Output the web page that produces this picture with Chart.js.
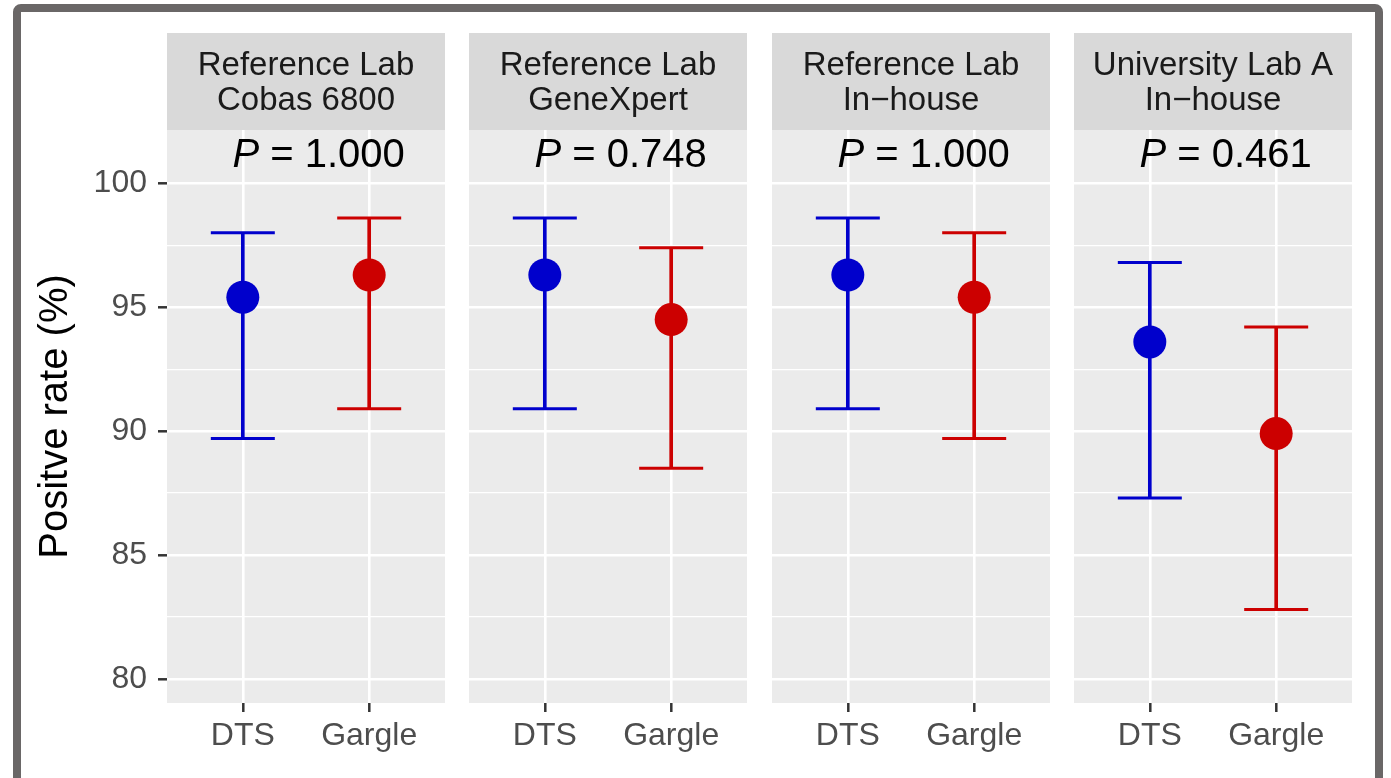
<!DOCTYPE html>
<html>
<head>
<meta charset="utf-8">
<script src="https://cdn.jsdelivr.net/npm/chart.js@4.4.1/dist/chart.umd.min.js"></script>
<style>
  body { margin: 0; background: #fff; }
  #page { position: relative; width: 1391px; height: 778px; overflow: hidden; background: #fff; }
  #frame { position: absolute; left: 13px; top: 4px; width: 1370px; height: 830px; border: 8px solid #6a6767; border-radius: 8px; box-sizing: border-box; }
  canvas { position: absolute; top: 0; }
</style>
</head>
<body>
<div id="page">
  <div id="frame"></div>
</div>
<script>
// data
const categories = ['DTS', 'Gargle'];
const panelLabels = [
    ['Reference Lab', 'Cobas 6800'],
    ['Reference Lab', 'GeneXpert'],
    ['Reference Lab', 'In\u2212house'],
    ['University Lab A', 'In\u2212house']
];
const pValues = ['1.000', '0.748', '1.000', '0.461'];
const dtsRate = [95.4, 96.3, 96.3, 93.6];
const dtsLower = [89.7, 90.9, 90.9, 87.3];
const dtsUpper = [98.0, 98.6, 98.6, 96.8];
const gargleRate = [96.3, 94.5, 95.4, 89.9];
const gargleLower = [90.9, 88.5, 89.7, 82.8];
const gargleUpper = [98.6, 97.4, 98.0, 94.2];
const yTicks = [80, 85, 90, 95, 100];

const BLUE = '#0000cc';
const RED = '#cc0000';
const FONT = '"Liberation Sans", Arial, sans-serif';
const panelLeft = [167, 469, 772, 1074];
const panelWidth = 278;
const yAxisWidth = 139;

Chart.defaults.font.family = FONT;

const facetPlugin = {
    id: 'facet',
    beforeDraw(chart, args, opts) {
        const { ctx, chartArea: a } = chart;
        ctx.save();
        ctx.fillStyle = '#ebebeb';
        ctx.fillRect(a.left, a.top, a.right - a.left, a.bottom - a.top);
        ctx.fillStyle = '#d9d9d9';
        ctx.fillRect(a.left, 33, a.right - a.left, a.top - 33);
        ctx.fillStyle = '#1a1a1a';
        ctx.font = '33px ' + FONT;
        ctx.textAlign = 'center';
        ctx.textBaseline = 'middle';
        const cx = (a.left + a.right) / 2;
        opts.lines.forEach((t, k) => ctx.fillText(t, cx, 66 + k * 35));
        ctx.restore();
    },
    afterDatasetsDraw(chart, args, opts) {
        const { ctx, scales } = chart;
        const px = scales.x.getPixelForValue(1.6);
        const py = scales.y.getPixelForValue(101.1);
        ctx.save();
        ctx.fillStyle = '#000';
        ctx.textBaseline = 'middle';
        ctx.textAlign = 'left';
        ctx.font = 'italic 40px ' + FONT;
        const wP = ctx.measureText('P').width;
        ctx.font = '40px ' + FONT;
        const rest = ' = ' + opts.p;
        const wR = ctx.measureText(rest).width;
        const x0 = px - (wP + wR) / 2;
        ctx.font = 'italic 40px ' + FONT;
        ctx.fillText('P', x0, py);
        ctx.font = '40px ' + FONT;
        ctx.fillText(rest, x0 + wP, py);
        ctx.restore();
    }
};

function makePanel(i) {
    const first = i === 0;
    const canvas = document.createElement('canvas');
    const left = first ? 0 : panelLeft[i] - 12;
    const width = first ? panelLeft[0] + panelWidth + 12 : panelWidth + 24;
    canvas.width = width;
    canvas.height = 778;
    canvas.style.left = left + 'px';
    canvas.style.width = width + 'px';
    canvas.style.height = '778px';
    document.getElementById('page').appendChild(canvas);

    const isMajor = v => yTicks.includes(v);

    new Chart(canvas.getContext('2d'), {
        type: 'scatter',
        data: {
            datasets: [
                {
                    label: 'rate',
                    data: [{ x: 1, y: dtsRate[i] }, { x: 2, y: gargleRate[i] }],
                    backgroundColor: [BLUE, RED],
                    borderWidth: 0,
                    pointRadius: 16.5,
                    pointHoverRadius: 16.5,
                    order: 0
                },
                {
                    label: 'caps',
                    data: [
                        { x: 1, y: dtsUpper[i] }, { x: 1, y: dtsLower[i] },
                        { x: 2, y: gargleUpper[i] }, { x: 2, y: gargleLower[i] }
                    ],
                    pointStyle: 'line',
                    pointRadius: 32,
                    pointHoverRadius: 32,
                    borderWidth: 3,
                    borderColor: [BLUE, BLUE, RED, RED],
                    order: 1
                },
                {
                    type: 'bar',
                    label: 'ci',
                    data: [
                        { x: 1, y: [dtsLower[i], dtsUpper[i]] },
                        { x: 2, y: [gargleLower[i], gargleUpper[i]] }
                    ],
                    backgroundColor: [BLUE, RED],
                    borderWidth: 0,
                    barThickness: 3,
                    grouped: false,
                    order: 2
                }
            ]
        },
        options: {
            responsive: false,
            animation: false,
            events: [],
            layout: { autoPadding: false, padding: { left: first ? 28 : 12, right: 12, top: 130, bottom: 15 } },
            plugins: {
                legend: { display: false },
                tooltip: { enabled: false },
                facet: { lines: panelLabels[i], p: pValues[i] }
            },
            scales: {
                x: {
                    type: 'linear',
                    min: 0.4,
                    max: 2.6,
                    offset: false,
                    afterBuildTicks: s => { s.ticks = categories.map((c, k) => ({ value: k + 1 })); },
                    afterFit: s => { s.height = 60; s.paddingLeft = 0; s.paddingRight = 0; },
                    border: { display: false },
                    grid: { color: '#ffffff', lineWidth: 2.6, offset: false, tickLength: 9, tickColor: '#333333', tickWidth: 2.5 },
                    ticks: {
                        autoSkip: false,
                        maxRotation: 0,
                        padding: 5,
                        color: '#4d4d4d',
                        font: { size: 32 },
                        callback: v => categories[Math.round(v) - 1]
                    }
                },
                y: {
                    type: 'linear',
                    min: 79.03,
                    max: 102.15,
                    beginAtZero: false,
                    afterFit: s => { s.width = first ? yAxisWidth : 0; s.paddingTop = 0; s.paddingBottom = 0; },
                    border: { display: false },
                    grid: {
                        color: '#ffffff',
                        lineWidth: c => isMajor(c.tick && c.tick.value) ? 2.6 : 1.3,
                        drawTicks: first,
                        tickLength: 9,
                        tickWidth: 2.5,
                        tickColor: c => isMajor(c.tick && c.tick.value) ? '#333333' : 'rgba(0,0,0,0)'
                    },
                    ticks: {
                        display: first,
                        stepSize: 2.5,
                        includeBounds: false,
                        autoSkip: false,
                        padding: 11,
                        color: '#4d4d4d',
                        font: { size: 32 },
                        callback: v => isMajor(v) ? String(v) : ''
                    },
                    title: {
                        display: first,
                        text: 'Positve rate (%)',
                        color: '#000000',
                        font: { size: 40 },
                        padding: { top: 4, bottom: 4 }
                    }
                }
            }
        },
        plugins: [facetPlugin]
    });
}

for (let i = 0; i < panelLabels.length; i++) makePanel(i);
</script>
</body>
</html>
